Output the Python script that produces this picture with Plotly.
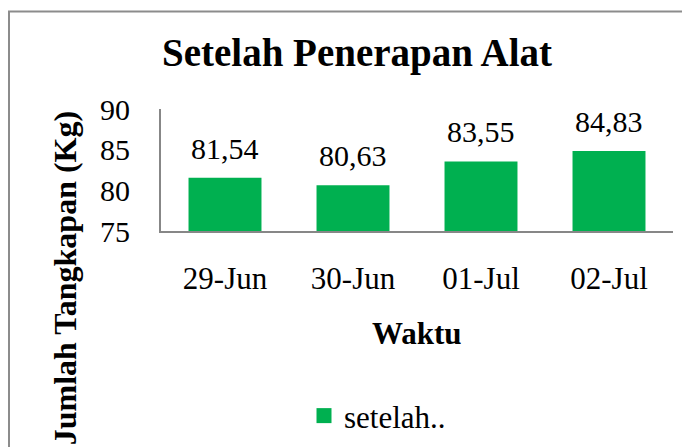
import plotly.graph_objects as go

# ---- data ----
categories = ["29-Jun", "30-Jun", "01-Jul", "02-Jul"]
values = [81.54, 80.63, 83.55, 84.83]
series_name = "setelah.."
y_ticks = [75, 80, 85, 90]

# page offset (browser body margin) and layout in window pixels
OFF = 8
W, H = 690, 447
PLOT_L, PLOT_R, PLOT_T, PLOT_B = 161, 673, 109, 233   # window pixels
L = PLOT_L - OFF
T = PLOT_T - OFF
PW = PLOT_R - PLOT_L
PH = PLOT_B - PLOT_T
R = W - L - PW
B = H - T - PH

def px_x(p):
    return (p - PLOT_L) / PW

def px_y(p):
    return (PLOT_B - p) / PH

FONT = "Liberation Serif, Times New Roman, serif"
GREEN = "#00B050"
AXIS = "#878787"

fig = go.Figure()
fig.add_trace(go.Bar(
    x=categories, y=values, name=series_name,
    marker=dict(color=GREEN, line=dict(width=0)),
    showlegend=False,
))
# legend entry with a larger square key
fig.add_trace(go.Scatter(
    x=[None], y=[None], mode="markers", name=series_name,
    marker=dict(symbol="square", size=15, color=GREEN),
    showlegend=True,
))

annotations = []
for c, v in zip(categories, values):
    annotations.append(dict(
        x=c, y=v, xref="x", yref="y", text=f"{v:.2f}".replace(".", ","),
        showarrow=False, yanchor="bottom", yshift=11,
        font=dict(family=FONT, size=30, color="#000000"),
    ))

# y axis title
annotations.append(dict(
    x=px_x(65), y=px_y(281), xref="paper", yref="paper",
    text="Jumlah Tangkapan (Kg)", textangle=-90, showarrow=False,
    xanchor="center", yanchor="middle",
    font=dict(family=FONT, size=32, color="#000000", weight="bold"),
))
# x axis title
annotations.append(dict(
    x=px_x(417), y=px_y(337), xref="paper", yref="paper",
    text="Waktu", showarrow=False, xanchor="center", yanchor="middle",
    font=dict(family=FONT, size=31, color="#000000", weight="bold"),
))

fig.update_layout(
    width=W, height=H,
    margin=dict(l=L, r=R, t=T, b=B, pad=0),
    paper_bgcolor="white", plot_bgcolor="white",
    bargap=0.43,
    title=dict(
        text="Setelah Penerapan Alat",
        x=px_x(357), xref="paper", xanchor="center",
        y=1 - (52 - OFF) / H, yref="container", yanchor="middle",
        font=dict(family=FONT, size=39, color="#000000", weight="bold"),
    ),
    xaxis=dict(
        showline=True, linecolor=AXIS, linewidth=2, ticks="",
        showgrid=False, zeroline=False,
        tickfont=dict(family=FONT, size=31, color="#000000"),
        ticklabelstandoff=19,
    ),
    yaxis=dict(
        range=[75, 90], tickvals=y_ticks, showline=True, linecolor=AXIS,
        linewidth=2, ticks="", showgrid=False, zeroline=False,
        tickfont=dict(family=FONT, size=30, color="#000000"),
        ticklabelstandoff=23,
    ),
    legend=dict(
        orientation="h", x=px_x(304), y=px_y(421), xanchor="left",
        yanchor="middle", font=dict(family=FONT, size=31, color="#000000"),
        bgcolor="rgba(0,0,0,0)", itemsizing="trace",
    ),
    annotations=annotations,
    shapes=[dict(
        type="rect", xref="paper", yref="paper", layer="below",
        x0=px_x(9), x1=px_x(760), y0=px_y(10), y1=px_y(520),
        line=dict(color="#8c8c8c", width=2), fillcolor="rgba(0,0,0,0)",
    )],
)

fig.write_html("out.html")
